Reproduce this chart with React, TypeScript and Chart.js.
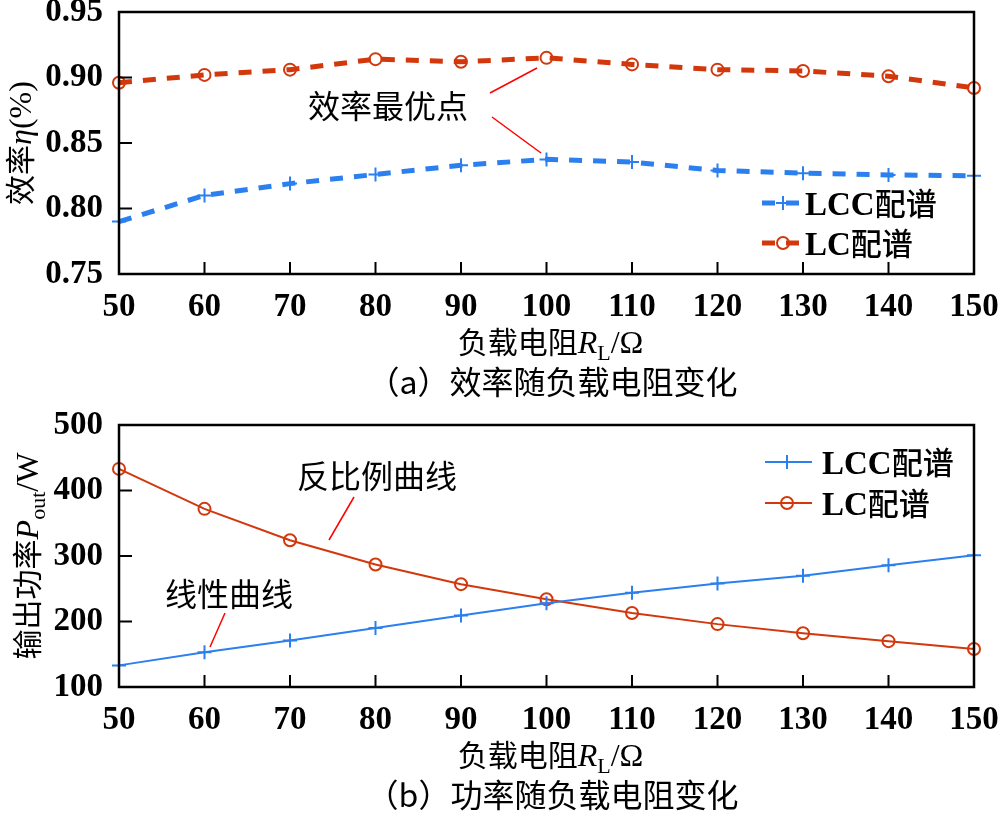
import React, { useEffect, useRef } from "react";
import { Chart, registerables } from "chart.js";

Chart.register(...registerables);

const loads = [50, 60, 70, 80, 90, 100, 110, 120, 130, 140, 150];
const effLCC = [0.79, 0.81, 0.819, 0.826, 0.833, 0.8375, 0.8355, 0.829, 0.827, 0.8256, 0.825];
const effLC = [0.896, 0.902, 0.906, 0.914, 0.912, 0.915, 0.91, 0.906, 0.905, 0.901, 0.892];
const powLCC = [133, 153, 171, 190, 209, 228, 244, 258, 270, 286, 301];
const powLC = [433, 372, 324, 287, 257, 234, 213, 196, 182, 170, 158];
const seriesLatin = ["LCC", "LC"];
const seriesCJK = ["配谱", "配谱"];
const effTitle = ["效率", "η", "(%)"];
const powTitle = ["输出功率", "P", "out", "/W"];
const xTitle = ["负载电阻", "R", "L", "/Ω"];
const captionA = "（a）效率随负载电阻变化";
const captionB = "（b）功率随负载电阻变化";
const noteTop = "效率最优点";
const noteInverse = "反比例曲线";
const noteLinear = "线性曲线";

const BLUE = "#2b7fee";
const RED = "#d2380c";
const SERIF = '"Liberation Serif", "Noto Sans CJK SC"';
const CJK = '"Noto Sans CJK SC"';

type Seg = { t: string; f: string; dy?: number };

function drawRich(ctx: CanvasRenderingContext2D, segs: Seg[], cx: number, cy: number, rot: number, baseOff: number, left = false) {
  ctx.save();
  ctx.translate(cx, cy);
  ctx.rotate(rot);
  ctx.textBaseline = "alphabetic";
  ctx.textAlign = "left";
  ctx.fillStyle = "#000";
  let w = 0;
  for (const s of segs) {
    ctx.font = s.f;
    w += ctx.measureText(s.t).width;
  }
  let x = left ? 0 : -w / 2;
  for (const s of segs) {
    ctx.font = s.f;
    ctx.fillText(s.t, x, baseOff + (s.dy || 0));
    x += ctx.measureText(s.t).width;
  }
  ctx.restore();
}

function drawMarker(ctx: CanvasRenderingContext2D, style: string, x: number, y: number, r: number, color: string) {
  ctx.save();
  ctx.strokeStyle = color;
  ctx.lineWidth = 2;
  ctx.setLineDash([]);
  ctx.beginPath();
  if (style === "circle") {
    ctx.arc(x, y, r, 0, Math.PI * 2);
  } else {
    ctx.moveTo(x - r, y);
    ctx.lineTo(x + r, y);
    ctx.moveTo(x, y - r);
    ctx.lineTo(x, y + r);
  }
  ctx.stroke();
  ctx.restore();
}

type Cfg = {
  yTitle: Seg[];
  yTitleX: number;
  caption: string;
  legendX1: number;
  legendX2: number;
  legendMarkX: number;
  legendTextX: number;
  legendY: number[];
  notes: { t: string; x: number; y: number }[];
  lines: number[][];
};

function makePlugin(cfg: Cfg) {
  return {
    id: "decor",
    afterDraw(chart: any) {
      const ctx: CanvasRenderingContext2D = chart.ctx;
      const a = chart.chartArea;
      const xs = chart.scales.x;
      const ys = chart.scales.y;
      ctx.save();
      ctx.strokeStyle = "#000";
      ctx.lineWidth = 2.5;
      ctx.setLineDash([]);
      ctx.strokeRect(a.left, a.top, a.right - a.left, a.bottom - a.top);
      ctx.lineWidth = 2;
      ctx.beginPath();
      for (const t of xs.ticks) {
        const px = xs.getPixelForValue(t.value);
        ctx.moveTo(px, a.bottom);
        ctx.lineTo(px, a.bottom - 12);
      }
      for (const t of ys.ticks) {
        const py = ys.getPixelForValue(t.value);
        ctx.moveTo(a.left, py);
        ctx.lineTo(a.left + 13, py);
      }
      ctx.stroke();
      const cxm = (a.left + a.right) / 2 + 4;
      drawRich(
        ctx,
        [
          { t: xTitle[0], f: `30px ${CJK}` },
          { t: xTitle[1], f: `italic 32px ${SERIF}` },
          { t: xTitle[2], f: `22px ${SERIF}`, dy: 7 },
          { t: xTitle[3], f: `32px ${SERIF}` },
        ],
        cxm,
        a.bottom + 68,
        0,
        11
      );
      drawRich(ctx, cfg.yTitle, cfg.yTitleX, (a.top + a.bottom) / 2, -Math.PI / 2, 11);
      drawRich(ctx, [{ t: cfg.caption, f: `32px ${CJK}` }], cxm + 2, a.bottom + 109, 0, 11);
      for (const n of cfg.notes) {
        drawRich(ctx, [{ t: n.t, f: `32px ${CJK}` }], n.x, n.y, 0, 11);
      }
      ctx.strokeStyle = "#ff0000";
      ctx.lineWidth = 1.5;
      ctx.beginPath();
      for (const l of cfg.lines) {
        ctx.moveTo(l[0], l[1]);
        ctx.lineTo(l[2], l[3]);
      }
      ctx.stroke();
      const ds = chart.data.datasets;
      ds.forEach((d: any, i: number) => {
        const y = cfg.legendY[i];
        ctx.save();
        ctx.strokeStyle = d.borderColor;
        ctx.lineWidth = d.borderWidth;
        ctx.setLineDash(d.borderDash || []);
        ctx.beginPath();
        ctx.moveTo(cfg.legendX1, y);
        ctx.lineTo(cfg.legendX2, y);
        ctx.stroke();
        ctx.restore();
        drawMarker(ctx, d.pointStyle, cfg.legendMarkX, y, d.pointRadius, d.borderColor);
        drawRich(
          ctx,
          [
            { t: seriesLatin[i], f: `bold 33px ${SERIF}` },
            { t: seriesCJK[i], f: `500 31px ${CJK}` },
          ],
          cfg.legendTextX,
          y,
          0,
          12,
          true
        );
      });
      ctx.restore();
    },
  };
}

function buildConfig(
  dataA: number[],
  dataB: number[],
  dashed: boolean,
  yMin: number,
  yMax: number,
  yStep: number,
  yFmt: (v: number) => string,
  padTop: number,
  xHeight: number,
  cfg: Cfg
): any {
  const tickFont = { family: '"Liberation Serif"', size: 33, weight: "bold" as const };
  const mk = (vals: number[], label: string, color: string, style: string) => ({
    label,
    data: vals.map((v, i) => ({ x: loads[i], y: v })),
    borderColor: color,
    backgroundColor: "transparent",
    borderWidth: dashed ? 5 : 2,
    borderDash: dashed ? [13, 11] : [],
    pointStyle: style,
    pointRadius: style === "circle" ? 6 : 7,
    pointBorderWidth: 2,
    pointBorderColor: color,
    pointBackgroundColor: "transparent",
    tension: 0,
    clip: false,
  });
  return {
    type: "line",
    data: {
      datasets: [
        mk(dataA, seriesLatin[0] + seriesCJK[0], BLUE, "cross"),
        mk(dataB, seriesLatin[1] + seriesCJK[1], RED, "circle"),
      ],
    },
    options: {
      responsive: false,
      animation: false,
      layout: { padding: { top: padTop, right: 26, left: 0, bottom: 0 } },
      plugins: { legend: { display: false }, tooltip: { enabled: false }, title: { display: false } },
      scales: {
        x: {
          type: "linear",
          min: 50,
          max: 150,
          ticks: { stepSize: 10, font: tickFont, color: "#000", padding: 6, maxRotation: 0, autoSkip: false },
          grid: { display: false },
          border: { display: false },
          afterFit: (s: any) => {
            s.height = xHeight;
            s.paddingLeft = 0;
            s.paddingRight = 0;
          },
        },
        y: {
          type: "linear",
          min: yMin,
          max: yMax,
          ticks: { stepSize: yStep, font: tickFont, color: "#000", padding: 8, callback: (v: any) => yFmt(Number(v)) },
          grid: { display: false },
          border: { display: false },
          afterFit: (s: any) => {
            s.width = 119;
            s.paddingTop = 0;
            s.paddingBottom = 0;
          },
        },
      },
    },
    plugins: [makePlugin(cfg)],
  };
}

export default function App() {
  const topRef = useRef<HTMLCanvasElement>(null);
  const botRef = useRef<HTMLCanvasElement>(null);

  useEffect(() => {
    const topCfg: Cfg = {
      yTitle: [
        { t: effTitle[0], f: `30px ${CJK}` },
        { t: effTitle[1], f: `italic 32px ${SERIF}` },
        { t: effTitle[2], f: `32px ${SERIF}` },
      ],
      yTitleX: 20,
      caption: captionA,
      legendX1: 762,
      legendX2: 800,
      legendMarkX: 783,
      legendTextX: 805,
      legendY: [203, 243],
      notes: [{ t: noteTop, x: 388, y: 107 }],
      lines: [
        [490, 93, 537, 68],
        [492, 117, 541, 153],
      ],
    };
    const botCfg: Cfg = {
      yTitle: [
        { t: powTitle[0], f: `30px ${CJK}` },
        { t: powTitle[1], f: `italic 32px ${SERIF}` },
        { t: powTitle[2], f: `22px ${SERIF}`, dy: 7 },
        { t: powTitle[3], f: `32px ${SERIF}` },
      ],
      yTitleX: 27,
      caption: captionB,
      legendX1: 765,
      legendX2: 812,
      legendMarkX: 787,
      legendTextX: 822,
      legendY: [62, 103],
      notes: [
        { t: noteInverse, x: 377, y: 77 },
        { t: noteLinear, x: 229, y: 195 },
      ],
      lines: [
        [354, 97, 329, 140],
        [225, 213, 210, 247],
      ],
    };
    const c1 = new Chart(
      topRef.current!,
      buildConfig(effLCC, effLC, true, 0.75, 0.95, 0.05, (v) => v.toFixed(2), 12, 126, topCfg)
    );
    const c2 = new Chart(
      botRef.current!,
      buildConfig(powLCC, powLC, false, 100, 500, 100, (v) => String(Math.round(v)), 25, 138, botCfg)
    );
    return () => {
      c1.destroy();
      c2.destroy();
    };
  }, []);

  return (
    <div style={{ position: "absolute", left: 0, top: 0, width: 1000, height: 825, background: "#fff" }}>
      <canvas ref={topRef} width={1000} height={400} style={{ position: "absolute", left: 0, top: 0 }} />
      <canvas ref={botRef} width={1000} height={425} style={{ position: "absolute", left: 0, top: 400 }} />
    </div>
  );
}
